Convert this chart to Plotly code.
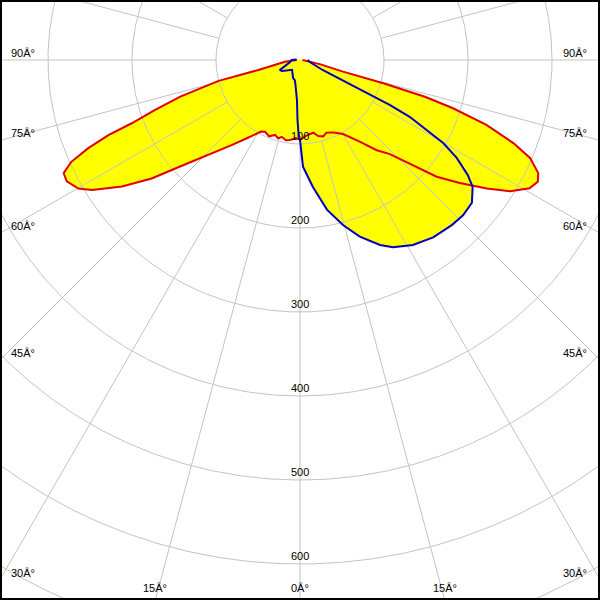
import numpy as np
import plotly.graph_objects as go

# ---- data (gamma angle in degrees, luminous intensity in cd) ----
# C0 / C180 plane (red), negative gamma = C180 side
red_gamma = [-90, -83.5, -76.5, -75.6, -73.0, -71.0, -69.4, -68.6, -67.4, -66.0, -64.4, -62.5,
             -59.9, -58.0, -54.6, -51.4, -48.4, -44.0, -38.8, -34.0, -31.2, -28.5, -26.0, -22.0,
             -18.4, -15.5, -13.4, -10.0, -7.1, -3.0, 0, 5.1, 10.4, 13.5, 16.9, 20.0, 24.7, 27.5,
             30.2, 36.3, 40.4, 43.7, 47.9, 49.5, 52.4, 55.5, 58.0, 60.8, 62.9, 64.6, 66.9, 68.7,
             70.8, 72.5, 73.6, 74.4, 74.9, 78.0, 90]
red_cd = [4, 18, 51, 100, 149, 183, 214, 245, 273, 298, 312, 313,
          305, 292, 260, 226, 191, 157, 130, 112, 103, 97, 95, 98,
          94, 97, 94, 97, 96, 93, 95, 90, 88, 93, 95, 92, 95, 98,
          102, 121, 141, 155, 192, 214, 240, 270, 295, 313, 318, 314, 298, 273,
          235, 191, 155, 103, 53, 25, 3]

# C90 / C270 plane (blue), negative gamma = C270 side
blue_gamma = [-100, -90, -78.7, -67.6, -63.4, -58.6, -51.0, -38.7, -21.0, -14.0, -8.0, -4.3,
              -2.4, -1.2, 0, 1.6, 5.8, 10.2, 14.6, 18.7, 23.4, 26.4, 31.4, 36.9, 42.6, 46.4,
              50.3, 53.7, 55.6, 58.0, 59.9, 61.1, 62.6, 63.4, 64.0, 66.0, 75.0, 90]
blue_cd = [4, 10, 12, 22, 27, 25, 20, 15, 23, 25, 35, 48,
           71, 87, 95, 127, 152, 181, 203, 222, 240, 249, 258, 264, 267, 268,
           266, 255, 242, 220, 197, 173, 147, 120, 80, 30, 14, 9]

radius_ticks = [100, 200, 300, 400, 500, 600]
grid_circles = [100, 200, 300, 400, 500, 600, 700, 800]
side_angles = [90, 75, 60, 45, 30]
bottom_angles = [-15, 0, 15]

DEG = "\u00c2\u00b0"  # as rendered in the original ("Â°")

# ---- geometry: pixel scale 0.84 px per cd, pole at (300, 60) ----
PX = 0.84
XR = [-300 / PX, 300 / PX]
YR = [-540 / PX, 60 / PX]


def to_xy(g, i):
    g = np.radians(np.asarray(g, float))
    i = np.asarray(i, float)
    return i * np.sin(g), -i * np.cos(g)


rx, ry = to_xy(red_gamma, red_cd)
bx, by = to_xy(blue_gamma, blue_cd)

fig = go.Figure()

# fills
for x, y in [(rx, ry), (bx, by)]:
    fig.add_trace(go.Scatter(x=list(x) + [x[0]], y=list(y) + [y[0]], mode="lines",
                             fill="toself", fillcolor="#ffff00",
                             line=dict(width=0, color="rgba(0,0,0,0)"), hoverinfo="skip"))

# grid circles
cx, cy = [], []
t = np.linspace(0, 2 * np.pi, 721)
for r in grid_circles:
    cx += list(r * np.cos(t)) + [None]
    cy += list(r * np.sin(t)) + [None]
fig.add_trace(go.Scatter(x=cx, y=cy, mode="lines", line=dict(color="#c4c4c4", width=1),
                         hoverinfo="skip"))

# radial lines (start at the 100 cd circle)
lx, ly = [], []
for a in range(0, 360, 15):
    ar = np.radians(a)
    lx += [100 * np.sin(ar), 1200 * np.sin(ar), None]
    ly += [-100 * np.cos(ar), -1200 * np.cos(ar), None]
fig.add_trace(go.Scatter(x=lx, y=ly, mode="lines", line=dict(color="#c4c4c4", width=1),
                         hoverinfo="skip"))

# curves
fig.add_trace(go.Scatter(x=rx, y=ry, mode="lines", line=dict(color="#e00000", width=2),
                         hoverinfo="skip"))
fig.add_trace(go.Scatter(x=bx, y=by, mode="lines", line=dict(color="#0000c0", width=2),
                         hoverinfo="skip"))

font = dict(family="Liberation Sans, Arial, sans-serif", size=11, color="black")
ann = []
for r in radius_ticks:
    ann.append(dict(x=0, y=-r, xref="x", yref="y", text=str(r), showarrow=False,
                    xanchor="center", yanchor="bottom", yshift=0, font=font))

# angle labels where the radial lines meet the frame
for a in side_angles:
    ar = np.radians(a)
    yhit = -XR[1] / np.tan(ar)  # data y where ray meets side edge
    ann.append(dict(x=0.015, y=yhit, xref="paper", yref="y", text=f"{a}{DEG}",
                    showarrow=False, xanchor="left", yanchor="middle", yshift=7, font=font))
    ann.append(dict(x=0.982, y=yhit, xref="paper", yref="y", text=f"{a}{DEG}",
                    showarrow=False, xanchor="right", yanchor="middle", yshift=7, font=font))
for a in bottom_angles:
    ar = np.radians(a)
    xhit = -YR[0] * np.tan(ar)
    ann.append(dict(x=xhit, y=0.02, xref="x", yref="paper", text=f"{abs(a)}{DEG}",
                    showarrow=False, xanchor="center", yanchor="middle", font=font))

fig.update_layout(
    width=600, height=600, autosize=False,
    margin=dict(l=0, r=0, t=0, b=0, pad=0),
    paper_bgcolor="white", plot_bgcolor="white",
    showlegend=False, hovermode=False,
    xaxis=dict(range=XR, visible=False, fixedrange=True),
    yaxis=dict(range=YR, visible=False, fixedrange=True),
    annotations=ann,
    shapes=[dict(type="rect", xref="paper", yref="paper", x0=0, y0=0, x1=1, y1=1,
                 line=dict(color="black", width=4), layer="above")],
)

fig.write_html("out.html", config=dict(displayModeBar=False, staticPlot=True),
               post_script="document.body.style.margin='0px';document.body.style.overflow='hidden';")
